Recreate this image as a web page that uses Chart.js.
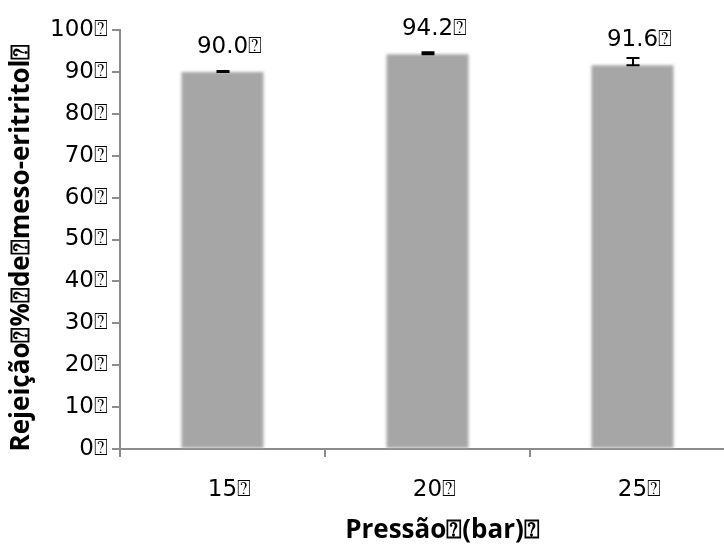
<!DOCTYPE html>
<html>
<head>
<meta charset="utf-8">
<script src="https://cdn.jsdelivr.net/npm/chart.js@4/dist/chart.umd.min.js"></script>
<style>
  html, body { margin: 0; padding: 0; background: #ffffff; overflow: hidden; }
  #wrap { position: absolute; left: 0; top: 0; width: 740px; height: 546px; }
</style>
</head>
<body>
<div id="wrap"><canvas id="c" width="740" height="546"></canvas></div>
<script>
// Pressure levels (bar) and mean rejection of meso-erythritol (%)
const categories = ['15', '20', '25'];
const rejection = [90.0, 94.2, 91.6];
// upper error bar lengths (%)
const errorPlus = [0.2, 0.5, 1.7];
const yTicks = [0, 10, 20, 30, 40, 50, 60, 70, 80, 90, 100];
const xTitle = 'Pressão\u2370(bar)\u2370';
const yTitle = 'Rejeição\u2370%\u2370de\u2370meso-eritritol\u2370';

const MARK = '\u2370';
const axisGrey = '#8c8c8c';
const tickFont = { family: '"DejaVu Sans", sans-serif', size: 23 };
const titleCss = 'bold 26px "Open Sans", sans-serif';

// width of the trailing marker, so numbers stay centred on their bars
const probe = document.createElement('canvas').getContext('2d');
probe.font = tickFont.size + 'px ' + tickFont.family;
const markW = probe.measureText(MARK).width;

const softBars = {
  id: 'softBars',
  beforeDatasetsDraw(chart) {
    chart.ctx.save();
    chart.ctx.filter = 'blur(1.6px)';
  },
  afterDatasetsDraw(chart) {
    const ctx = chart.ctx;
    ctx.restore();
    const y = chart.scales.y;
    const meta = chart.getDatasetMeta(0);
    ctx.save();
    // error bars
    ctx.strokeStyle = '#000000';
    ctx.lineWidth = 2;
    meta.data.forEach((bar, i) => {
      const x = Math.round(bar.x);
      const y0 = y.getPixelForValue(rejection[i]);
      const y1 = y.getPixelForValue(rejection[i] + errorPlus[i]);
      ctx.beginPath();
      ctx.moveTo(x - 6.5, y0); ctx.lineTo(x + 6.5, y0);
      ctx.moveTo(x - 6.5, y1); ctx.lineTo(x + 6.5, y1);
      ctx.moveTo(x, y0); ctx.lineTo(x, y1);
      ctx.stroke();
    });
    // value labels
    ctx.fillStyle = '#000000';
    ctx.font = tickFont.size + 'px ' + tickFont.family;
    ctx.textAlign = 'left';
    ctx.textBaseline = 'alphabetic';
    meta.data.forEach((bar, i) => {
      const top = y.getPixelForValue(rejection[i]);
      const num = rejection[i].toFixed(1);
      const w = ctx.measureText(num).width;
      ctx.fillText(num + MARK, bar.x - w / 2, top - 19);
    });
    ctx.restore();
  }
};

const axisTitles = {
  id: 'axisTitles',
  afterDraw(chart) {
    const ctx = chart.ctx;
    const a = chart.chartArea;
    ctx.save();
    ctx.fillStyle = '#000000';
    ctx.font = titleCss;
    ctx.textAlign = 'center';
    ctx.textBaseline = 'middle';
    ctx.fillText(xTitle, (a.left + a.right) / 2 + 15, 531);
    ctx.translate(22, (a.top + a.bottom) / 2 + 8);
    ctx.rotate(-Math.PI / 2);
    ctx.fillText(yTitle, 0, 0);
    ctx.restore();
  }
};

new Chart(document.getElementById('c'), {
  type: 'bar',
  data: {
    labels: categories,
    datasets: [{
      data: rejection,
      backgroundColor: '#a6a6a6',
      borderWidth: 0,
      categoryPercentage: 0.4,
      barPercentage: 1.0
    }]
  },
  options: {
    responsive: false,
    devicePixelRatio: 1,
    animation: false,
    layout: { padding: { top: 30, right: 5, bottom: 0, left: 0 } },
    plugins: { legend: { display: false }, tooltip: { enabled: false } },
    scales: {
      x: {
        offset: true,
        grid: { offset: true, drawOnChartArea: false, drawTicks: true, tickLength: 8, color: axisGrey, lineWidth: 2 },
        border: { display: true, color: axisGrey, width: 2 },
        ticks: { font: tickFont, color: '#000000', padding: 19, labelOffset: markW / 2, callback: (v, i) => categories[i] + MARK },
        afterFit: (s) => { s.height = 97; }
      },
      y: {
        min: 0,
        max: 100,
        afterBuildTicks: (s) => { s.ticks = yTicks.map(v => ({ value: v })); },
        grid: { drawOnChartArea: false, drawTicks: true, tickLength: 8, color: axisGrey, lineWidth: 2 },
        border: { display: true, color: axisGrey, width: 2 },
        ticks: { font: tickFont, color: '#000000', padding: 4, callback: (v) => v + MARK },
        afterFit: (s) => { s.width = 120; }
      }
    }
  },
  plugins: [softBars, axisTitles]
});
</script>
</body>
</html>
